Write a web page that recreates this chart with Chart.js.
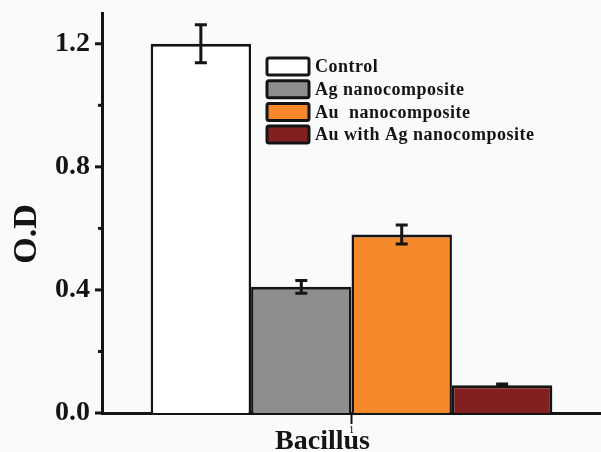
<!DOCTYPE html>
<html>
<head>
<meta charset="utf-8">
<script src="https://cdn.jsdelivr.net/npm/chart.js@4.4.1/dist/chart.umd.min.js"></script>
<style>
  html, body { margin: 0; padding: 0; background: #f9fafc; }
  #wrap { width: 601px; height: 452px; }
</style>
</head>
<body>
<div id="wrap"><canvas id="c" width="601" height="452"></canvas></div>
<script>
// Optical density of Bacillus cultures under each treatment
const categories = ['Bacillus'];
const categoryTickLabels = ['1'];
const seriesNames = ['Control', 'Ag nanocomposite', 'Au  nanocomposite', 'Au with Ag nanocomposite'];
const odValues = [1.20, 0.41, 0.58, 0.09];
const odErrors = [0.062, 0.021, 0.031, 0.004];
const yTickValues = [0.0, 0.4, 0.8, 1.2];
const seriesColors = ['#ffffff', '#8e8e8e', '#f4882a', '#822020'];

const INK = '#141414';
const SERIF = '"Liberation Serif", "Times New Roman", serif';

const datasets = seriesNames.map((name, i) => ({
  label: name,
  data: [odValues[i]],
  errors: [odErrors[i]],
  backgroundColor: seriesColors[i],
  borderColor: INK,
  borderWidth: { top: 3, left: 2.5, right: 2.5, bottom: 0 },
  borderSkipped: false,
  categoryPercentage: 0.805,
  barPercentage: 1.0
}));

const isMajor = v => yTickValues.some(t => Math.abs(t - v) < 1e-6);

const backdrop = {
  id: 'backdrop',
  beforeDraw(chart) {
    const ctx = chart.ctx;
    ctx.save();
    ctx.fillStyle = '#f9fafc';
    ctx.fillRect(0, 0, chart.width, chart.height);
    ctx.restore();
  }
};

// Error bars, axis tick marks, axis titles and the legend box
const decorations = {
  id: 'decorations',
  afterDatasetsDraw(chart) {
    const ctx = chart.ctx;
    const y = chart.scales.y;
    ctx.save();
    ctx.strokeStyle = INK;
    ctx.lineWidth = 3;
    chart.data.datasets.forEach((ds, i) => {
      const meta = chart.getDatasetMeta(i);
      meta.data.forEach((bar, j) => {
        const v = ds.data[j], e = ds.errors[j];
        const yt = y.getPixelForValue(v + e);
        const yb = y.getPixelForValue(v - e);
        const cap = 6;
        ctx.beginPath();
        ctx.moveTo(bar.x, yt); ctx.lineTo(bar.x, yb);
        ctx.moveTo(bar.x - cap, yt); ctx.lineTo(bar.x + cap, yt);
        ctx.moveTo(bar.x - cap, yb); ctx.lineTo(bar.x + cap, yb);
        ctx.stroke();
      });
    });
    ctx.restore();
  },
  afterDraw(chart) {
    const ctx = chart.ctx;
    const area = chart.chartArea;
    const y = chart.scales.y;
    const x = chart.scales.x;
    ctx.save();
    ctx.strokeStyle = INK;
    // y-axis ticks: long at labelled values, short in between
    y.ticks.forEach(t => {
      if (t.value > 1.21) return;
      const py = y.getPixelForValue(t.value);
      const len = isMajor(t.value) ? 7 : 4;
      ctx.lineWidth = 3;
      ctx.beginPath();
      ctx.moveTo(area.left - len, py);
      ctx.lineTo(area.left, py);
      ctx.stroke();
    });
    // x-axis category tick
    x.ticks.forEach((t, i) => {
      const px = x.getPixelForValue(i);
      ctx.lineWidth = 2;
      ctx.beginPath();
      ctx.moveTo(px, area.bottom);
      ctx.lineTo(px, area.bottom + 11);
      ctx.stroke();
    });

    // axis titles
    ctx.fillStyle = INK;
    ctx.font = 'bold 28px ' + SERIF;
    ctx.textAlign = 'center';
    ctx.textBaseline = 'alphabetic';
    ctx.fillText(categories[0], area.left + (area.right - area.left) * 0.442, 449);

    ctx.save();
    ctx.translate(36, 234);
    ctx.rotate(-Math.PI / 2);
    ctx.font = 'bold 34px ' + SERIF;
    ctx.textAlign = 'center';
    ctx.textBaseline = 'alphabetic';
    ctx.fillText('O.D', 0, 0);
    ctx.restore();

    // legend
    const lx = 267, ly = 58, bw = 42, bh = 17, step = 22.7;
    chart.data.datasets.forEach((ds, i) => {
      const top = ly + i * step;
      ctx.fillStyle = ds.backgroundColor;
      ctx.lineWidth = 3;
      ctx.strokeStyle = INK;
      ctx.beginPath();
      ctx.roundRect(lx, top, bw, bh, 2);
      ctx.fill();
      ctx.stroke();
      ctx.fillStyle = INK;
      ctx.font = 'bold 18px ' + SERIF;
      ctx.letterSpacing = '0.5px';
      ctx.textAlign = 'left';
      ctx.textBaseline = 'middle';
      ctx.fillText(ds.label, lx + bw + 6, top + bh / 2 + 1);
      ctx.letterSpacing = '0px';
    });
    ctx.restore();
  }
};

new Chart(document.getElementById('c'), {
  type: 'bar',
  data: { labels: categories, datasets },
  options: {
    responsive: false,
    animation: false,
    devicePixelRatio: 1,
    layout: { padding: { top: 13, right: 0, left: 0, bottom: 0 } },
    plugins: { legend: { display: false }, tooltip: { enabled: false } },
    scales: {
      x: {
        type: 'category',
        grid: { display: false, drawTicks: false },
        border: { display: true, color: INK, width: 3 },
        ticks: {
          padding: 11,
          color: INK,
          font: { family: SERIF, size: 11 },
          callback: (v, i) => categoryTickLabels[i]
        },
        afterFit(scale) {
          scale.height = 39;
          scale.paddingLeft = 0;
          scale.paddingRight = 0;
        }
      },
      y: {
        min: 0,
        max: 1.3,
        grid: { display: false, drawTicks: false },
        border: { display: true, color: INK, width: 3 },
        ticks: {
          stepSize: 0.2,
          includeBounds: false,
          autoSkip: false,
          padding: 12,
          color: INK,
          font: { family: SERIF, size: 28, weight: 'bold' },
          callback: v => (isMajor(v) ? v.toFixed(1) : '')
        },
        afterFit(scale) {
          scale.width = 102;
          scale.paddingTop = 0;
          scale.paddingBottom = 0;
        }
      }
    }
  },
  plugins: [backdrop, decorations]
});
</script>
</body>
</html>
